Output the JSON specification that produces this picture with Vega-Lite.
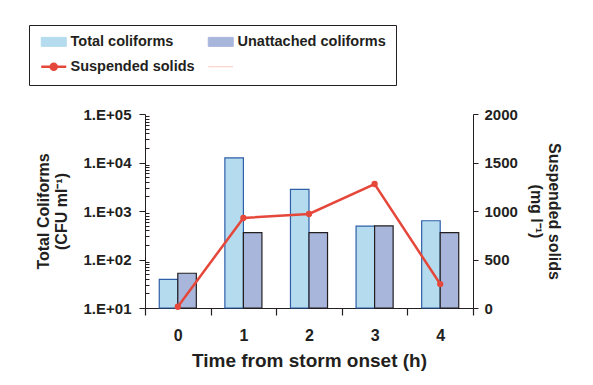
{
  "$schema": "https://vega.github.io/schema/vega-lite/v6.json",
  "autosize": {"type": "none"},
  "width": 328,
  "height": 194,
  "padding": {"left": 145, "top": 114, "right": 120, "bottom": 77},
  "background": "white",
  "config": {
    "font": "Liberation Sans",
    "view": {"stroke": null},
    "axis": {"domainColor": "#231f20", "tickColor": "#231f20", "labelColor": "#231f20", "titleColor": "#231f20", "labelFontWeight": "bold", "titleFontWeight": "bold", "grid": false}
  },
  "datasets": {
    "coliforms": [
      {"time": "0", "series": "Total coliforms", "cfu": 39},
      {"time": "0", "series": "Unattached coliforms", "cfu": 52},
      {"time": "1", "series": "Total coliforms", "cfu": 12500},
      {"time": "1", "series": "Unattached coliforms", "cfu": 357},
      {"time": "2", "series": "Total coliforms", "cfu": 2800},
      {"time": "2", "series": "Unattached coliforms", "cfu": 357},
      {"time": "3", "series": "Total coliforms", "cfu": 490},
      {"time": "3", "series": "Unattached coliforms", "cfu": 495},
      {"time": "4", "series": "Total coliforms", "cfu": 630},
      {"time": "4", "series": "Unattached coliforms", "cfu": 357}
    ],
    "solids": [
      {"time": "0", "ss": 13},
      {"time": "1", "ss": 928},
      {"time": "2", "ss": 969},
      {"time": "3", "ss": 1278},
      {"time": "4", "ss": 247}
    ]
  },
  "layer": [
    {
      "data": {"name": "coliforms"},
      "mark": {"type": "bar", "strokeWidth": 1.2},
      "encoding": {
        "x": {
          "field": "time", "type": "ordinal",
          "scale": {"paddingInner": 0, "paddingOuter": 0},
          "axis": {"title": "Time from storm onset (h)", "labelAngle": 0, "tickBand": "extent", "ticks": true, "tickSize": 7, "tickWidth": 1.2, "labelPadding": 12, "labelFontSize": 16, "titleFontSize": 19, "titlePadding": 8}
        },
        "xOffset": {"field": "series", "type": "nominal", "sort": ["Total coliforms", "Unattached coliforms"], "scale": {"paddingInner": 0, "paddingOuter": 0.77}},
        "y": {
          "field": "cfu", "type": "quantitative",
          "scale": {"type": "log", "domain": [10, 100000], "nice": false},
          "axis": {
            "title": ["Total Coliforms", "(CFU ml⁻¹)"],
            "titleFontSize": 16, "titleLineHeight": 18, "titlePadding": 14,
            "labelFontSize": 15, "labelPadding": 8,
            "values": [10,20,30,40,50,60,70,80,90,100,200,300,400,500,600,700,800,900,1000,2000,3000,4000,5000,6000,7000,8000,9000,10000,20000,30000,40000,50000,60000,70000,80000,90000,100000],
            "labelExpr": "indexof([10,100,1000,10000,100000], datum.value) >= 0 ? '1.E+0' + round(log(datum.value)/LN10) : ''",
            "tickSize": {"condition": {"test": "indexof([10,100,1000,10000,100000], datum.value) >= 0", "value": 6}, "value": -4}
          }
        },
        "y2": {"datum": 10},
        "color": {
          "field": "series", "type": "nominal",
          "scale": {"domain": ["Total coliforms", "Suspended solids", "Unattached coliforms", "blank"], "range": ["#b4dcee", "#e5473b", "#a9b6dc", "#f9c9c0"]},
          "legend": {
            "orient": "none", "legendX": -116, "legendY": -89,
            "title": null, "columns": 2, "columnPadding": 10, "rowPadding": 10,
            "padding": 9.5, "strokeColor": "#231f20",
            "symbolSize": 256, "labelOffset": 17.5,
            "labelFontSize": 14.5, "labelFontWeight": "bold", "labelColor": "#231f20",
            "labelExpr": "datum.value === 'blank' ? '' : datum.label",
            "encode": {
              "symbols": {
                "update": {
                  "shape": {"signal": "datum.value === 'Suspended solids' ? 'M-0.5625,0H2.5625M0.625,0A0.375,0.375,0,1,1,1.375,0A0.375,0.375,0,1,1,0.625,0Z' : (datum.value === 'blank' ? 'M-0.5625,0H2.5625' : 'M-0.5625,-0.5625H2.5625V0.5625H-0.5625Z')"},
                  "fill": {"signal": "datum.value === 'Total coliforms' ? '#b4dcee' : (datum.value === 'Unattached coliforms' ? '#a9b6dc' : (datum.value === 'Suspended solids' ? '#e5473b' : 'transparent'))"},
                  "stroke": {"signal": "datum.value === 'Suspended solids' ? '#e5473b' : (datum.value === 'blank' ? '#f9c9c0' : 'transparent')"},
                  "strokeWidth": {"signal": "datum.value === 'Suspended solids' ? 2.5 : 1"},
                  "opacity": {"value": 1}
                }
              }
            }
          }
        },
        "stroke": {
          "field": "series", "type": "nominal",
          "scale": {"domain": ["Total coliforms", "Unattached coliforms"], "range": ["#2e5fa8", "#231f20"]},
          "legend": null
        }
      }
    },
    {
      "data": {"name": "solids"},
      "mark": {"type": "line", "strokeWidth": 2.5, "point": {"filled": true, "size": 40}},
      "encoding": {
        "x": {"field": "time", "type": "ordinal"},
        "y": {
          "field": "ss", "type": "quantitative",
          "scale": {"domain": [0, 2000], "nice": false},
          "axis": {"orient": "right", "values": [0, 500, 1000, 1500, 2000], "format": "d", "title": ["Suspended solids", "(mg l⁻¹)"], "titleFontSize": 16, "titleLineHeight": 18, "titlePadding": 10, "labelFontSize": 15, "labelPadding": 6, "tickSize": 5}
        },
        "color": {"datum": "Suspended solids"}
      }
    }
  ],
  "resolve": {"scale": {"y": "independent", "stroke": "independent"}}
}
